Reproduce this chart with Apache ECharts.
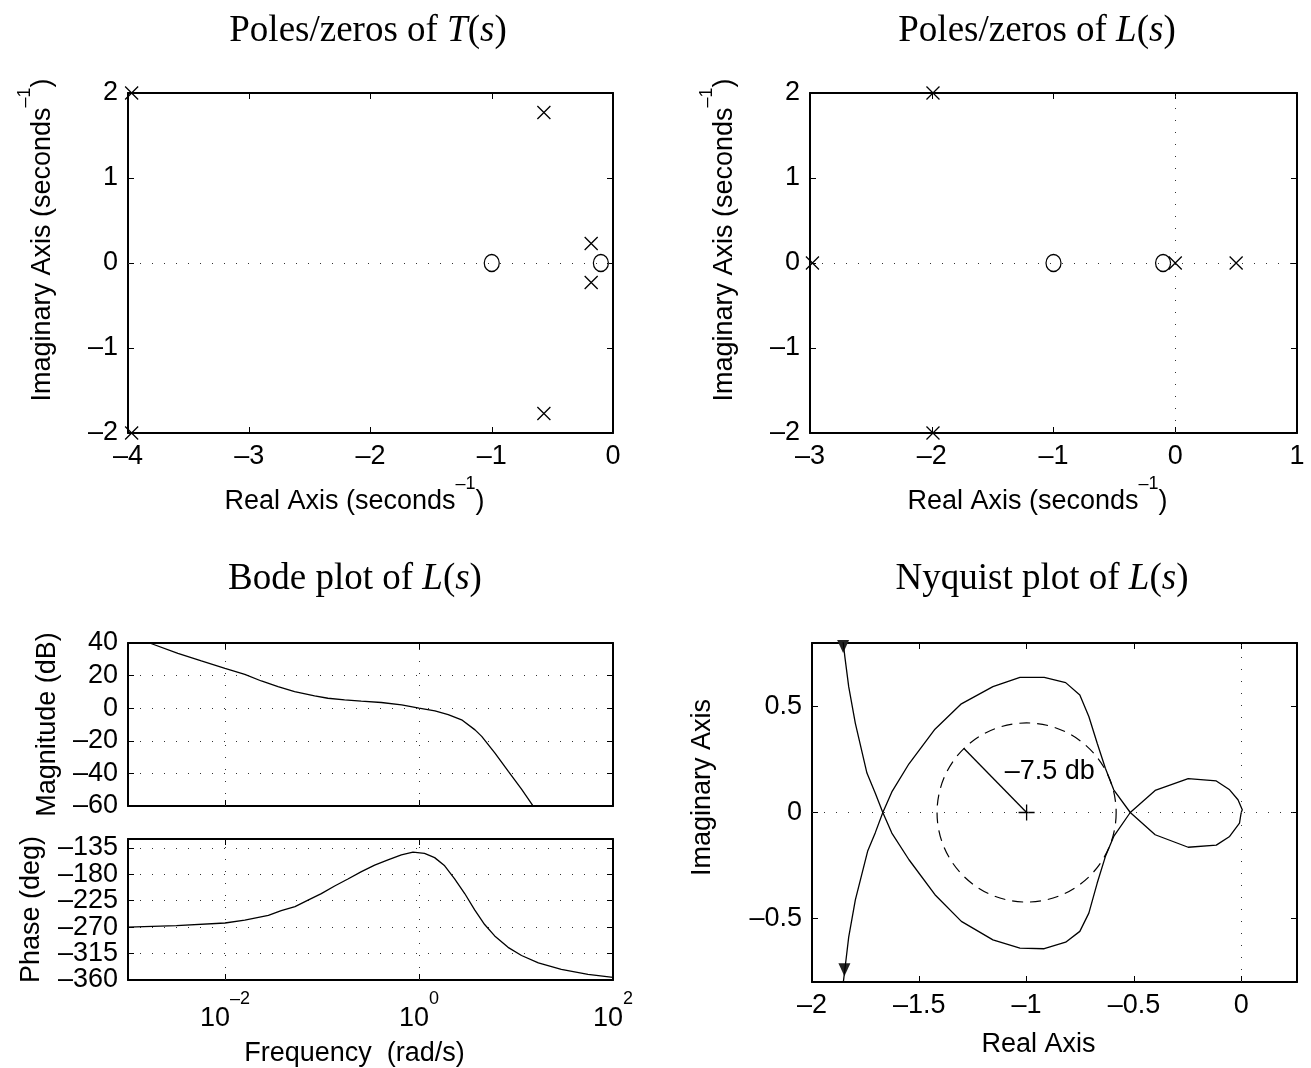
<!DOCTYPE html>
<html>
<head>
<meta charset="utf-8">
<script src="https://cdn.jsdelivr.net/npm/echarts@6/dist/echarts.min.js"></script>
<style>
html, body { margin: 0; padding: 0; background: #fff; }
#main { width: 1311px; height: 1068px; }
</style>
</head>
<body>
<div id="main"></div>
<script>
// poles / zeros of T(s)
var tPoles = [[-3.97, 2.0], [-3.97, -2.0], [-0.57, 1.77], [-0.57, -1.77], [-0.18, 0.23], [-0.18, -0.23]];
var tZeros = [[-1.0, 0], [-0.1, 0]];

// poles / zeros of L(s)
var lPoles = [[-1.99, 2.0], [-1.99, -2.0], [-2.98, 0], [0, 0], [0.5, 0]];
var lZeros = [[-1.0, 0], [-0.1, 0]];

// bode of L(s)
var magFreq = [0.001, 0.00167, 0.00327, 0.0057, 0.01, 0.016, 0.0237, 0.0352, 0.0522, 0.0839, 0.115, 0.171, 0.254,
  0.409, 0.662, 1, 1.46, 2.0, 2.75, 3.78, 4.43, 6.07, 8.34, 11.4, 15.1];
var magDb = [44.8, 40, 33.7, 29, 24.5, 20.8, 16.7, 13.3, 10.2, 7.6, 6.1, 5.1, 4.3,
  3.5, 2.0, 0, -1.6, -3.9, -7.1, -13.3, -17.3, -27.6, -38.8, -49.6, -60.2];
var phaseFreq = [0.001, 0.00316, 0.01, 0.016, 0.028, 0.038, 0.0527, 0.0718, 0.0984, 0.135, 0.185, 0.255, 0.349,
  0.479, 0.658, 0.867, 1.14, 1.45, 1.84, 2.33, 2.96, 3.75, 4.75, 6.03, 8.28, 11.4, 17, 29.3, 55.2, 100];
var phaseDeg = [-270, -267.5, -263, -258, -250, -242, -235, -224, -213, -200, -188, -175.6, -164.4,
  -155.6, -147.2, -142.2, -144.4, -151.7, -165.6, -187.8, -212.8, -240.6, -265.6, -285, -304.4, -318.3, -331, -342, -350.6, -355.6];
var bodeTicks = [0.01, 1, 100];
var phaseTicks = [-360, -315, -270, -225, -180, -135];
var phaseLabelsA = [-360, -270, -180];
var phaseLabelsB = [-315, -225, -135];

// nyquist of L(s): w > 0 branch and w < 0 branch
var nyqPos = [[-1.86, 0.85], [-1.847, 0.736], [-1.829, 0.594], [-1.798, 0.421], [-1.744, 0.186], [-1.705, 0.091],
  [-1.670, 0], [-1.628, -0.097], [-1.548, -0.223], [-1.427, -0.388], [-1.304, -0.514], [-1.157, -0.601],
  [-1.031, -0.640], [-0.918, -0.643], [-0.818, -0.612], [-0.752, -0.561], [-0.710, -0.475], [-0.671, -0.333],
  [-0.633, -0.208], [-0.594, -0.113], [-0.517, 0], [-0.401, 0.104], [-0.247, 0.160], [-0.116, 0.149],
  [-0.054, 0.107], [-0.015, 0.060], [0.005, 0.013], [0, 0]];
var nyqNeg = [[-1.86, -0.85], [-1.847, -0.742], [-1.829, -0.588], [-1.798, -0.412], [-1.740, -0.180], [-1.705, -0.095],
  [-1.670, 0], [-1.628, 0.097], [-1.548, 0.230], [-1.427, 0.393], [-1.304, 0.513], [-1.157, 0.594],
  [-1.031, 0.638], [-0.918, 0.638], [-0.818, 0.613], [-0.752, 0.555], [-0.710, 0.453], [-0.671, 0.327],
  [-0.633, 0.209], [-0.594, 0.107], [-0.517, 0], [-0.401, -0.105], [-0.247, -0.164], [-0.116, -0.154],
  [-0.054, -0.113], [-0.008, -0.050], [0, 0]];
var nyqArrows = [[-1.855, 0.783], [-1.849, -0.742]];
var critPoint = [-1, 0];
var circleRadius = 0.42;
var radiusEnd = [-1.293, 0.303];
var circleLabel = '\u20137.5 db';
var circleLabelPos = [-1.10, 0.193];
var nyqXTicks = [-2, -1.5, -1, -0.5, 0];
var nyqYTicks = [-0.5, 0, 0.5];

var SANS = 'Liberation Sans, Arial, Helvetica, sans-serif';
var SERIF = 'Liberation Serif, Times New Roman, serif';
var FS = 27;
var DOT = { color: '#333', width: 1, type: [1, 11] };
var CROSS = 'path://M0,0L10,10M10,0L0,10';
var PLUS = 'path://M5,0L5,10M0,5L10,5';

function fmtNum(v) { return String(v).replace('-', '\u2013'); }
function fmtPow(v) { return '{b|10}{e|' + fmtNum(Math.round(Math.log(v) / Math.LN10)) + '}'; }

var SUP_RICH = {
  n: { fontSize: FS, fontFamily: SANS, color: '#000', lineHeight: 40, verticalAlign: 'bottom' },
  s: { fontSize: 18, fontFamily: SANS, color: '#000', verticalAlign: 'top' }
};
var POW_RICH = {
  b: { fontSize: FS, fontFamily: SANS, color: '#000', lineHeight: 42, verticalAlign: 'bottom' },
  e: { fontSize: 18, fontFamily: SANS, color: '#000', verticalAlign: 'top' }
};
function nameStyle(pad) {
  return { fontSize: FS, fontFamily: SANS, color: '#000', rich: SUP_RICH, padding: pad || 0 };
}
function labelStyle(o) {
  return {
    show: o.labels !== false, margin: 10, fontSize: FS, fontFamily: SANS, color: '#000',
    showMinLabel: true, showMaxLabel: true, hideOverlap: false,
    customValues: o.labelVals || o.ticks, formatter: o.fmt || fmtNum, rich: o.rich
  };
}

var xAxes = [], yAxes = [];

// one pair of axes per side, box drawn by the axis lines
function addAxis(list, dir, g, o) {
  var pos = dir == 'x' ? ['bottom', 'top'] : ['left', 'right'];
  var line = { show: true, onZero: false, lineStyle: { color: '#000', width: 2 } };
  var tick = { show: true, inside: true, length: 6, lineStyle: { color: '#000', width: 1 }, customValues: o.ticks };
  var base = {
    type: o.type || 'value', gridIndex: g, min: o.min, max: o.max, interval: o.interval,
    axisLine: line, axisTick: tick
  };
  list.push(Object.assign({}, base, {
    position: pos[0],
    axisLabel: labelStyle(o),
    splitLine: { show: !!o.grid, lineStyle: DOT },
    name: o.name, nameLocation: 'middle', nameGap: o.gap, nameTextStyle: nameStyle(o.pad)
  }));
  list.push(Object.assign({}, base, {
    position: pos[1], axisLabel: { show: false }, splitLine: { show: false }
  }));
}

var realName = '{n|Real Axis (seconds}{s|\u20131}{n|)}';
var imagName = '{n|Imaginary Axis (seconds}{s|\u20131}{n|)}';
var X_PAD = [0, 32, 0, 0];

// 0: T(s) pz map
addAxis(xAxes, 'x', 0, { min: -4, max: 0, interval: 1, name: realName, gap: 42, pad: X_PAD });
addAxis(yAxes, 'y', 0, { min: -2, max: 2, interval: 1, name: imagName, gap: 72, pad: [0, 0, 0, 46] });
// 1: L(s) pz map
addAxis(xAxes, 'x', 1, { min: -3, max: 1, interval: 1, name: realName, gap: 42, pad: X_PAD });
addAxis(yAxes, 'y', 1, { min: -2, max: 2, interval: 1, name: imagName, gap: 72, pad: [0, 0, 0, 46] });
// 2: magnitude
addAxis(xAxes, 'x', 2, { type: 'log', min: 0.001, max: 100, ticks: bodeTicks, labels: false });
addAxis(yAxes, 'y', 2, { min: -60, max: 40, interval: 20, grid: true, name: '{n|Magnitude (dB)}', gap: 67 });
// 3: phase
addAxis(xAxes, 'x', 3, { type: 'log', min: 0.001, max: 100, ticks: bodeTicks, fmt: fmtPow, rich: POW_RICH,
  name: '{n|Frequency  (rad/s)}', gap: 47, pad: X_PAD });
addAxis(yAxes, 'y', 3, { min: -360, max: -120, interval: 45, ticks: phaseTicks, labelVals: phaseLabelsA, grid: true,
  name: '{n|Phase (deg)}', gap: 83 });
// 4: nyquist
addAxis(xAxes, 'x', 4, { min: -2, max: 0.26, ticks: nyqXTicks, name: '{n|Real Axis}', gap: 36, pad: X_PAD });
addAxis(yAxes, 'y', 4, { min: -0.8, max: 0.8, ticks: nyqYTicks, name: '{n|Imaginary Axis}', gap: 96, pad: [0, 0, 0, 50] });

// second set of phase labels (labels sit too close together for one axis)
yAxes.push({
  type: 'value', gridIndex: 3, position: 'left', min: -360, max: -120,
  axisLine: { show: false }, axisTick: { show: false }, splitLine: { show: false },
  axisLabel: labelStyle({ labelVals: phaseLabelsB })
});

function pair(a, b) {
  var out = [];
  for (var i = 0; i < a.length; i++) out.push([a[i], b[i]]);
  return out;
}

function dotLines(data) {
  return { silent: true, symbol: ['none', 'none'], label: { show: false }, lineStyle: DOT, animation: false, data: data };
}

var crossStyle = { color: 'none', borderColor: '#000', borderWidth: 1.3, opacity: 1 };
var ringStyle = { color: 'none', borderColor: '#000', borderWidth: 1.3, opacity: 1 };
var curve = { color: '#000', width: 1.3 };

var series = [
  // T(s)
  { type: 'scatter', xAxisIndex: 0, yAxisIndex: 0, data: tPoles, symbol: CROSS, symbolSize: 13, itemStyle: crossStyle,
    markLine: dotLines([{ yAxis: 0 }]) },
  { type: 'scatter', xAxisIndex: 0, yAxisIndex: 0, data: tZeros, symbol: 'circle', symbolSize: [15, 17], itemStyle: ringStyle },
  // L(s)
  { type: 'scatter', xAxisIndex: 2, yAxisIndex: 2, data: lPoles, symbol: CROSS, symbolSize: 13, itemStyle: crossStyle,
    markLine: dotLines([{ yAxis: 0 }, { xAxis: 0 }]) },
  { type: 'scatter', xAxisIndex: 2, yAxisIndex: 2, data: lZeros, symbol: 'circle', symbolSize: [15, 17], itemStyle: ringStyle },
  // bode
  { type: 'line', xAxisIndex: 4, yAxisIndex: 4, data: pair(magFreq, magDb), symbol: 'none',
    lineStyle: curve, markLine: dotLines([{ xAxis: 0.01 }, { xAxis: 1 }]) },
  { type: 'line', xAxisIndex: 6, yAxisIndex: 6, data: pair(phaseFreq, phaseDeg), symbol: 'none',
    lineStyle: curve, markLine: dotLines([{ xAxis: 0.01 }, { xAxis: 1 }]) },
  // nyquist
  { type: 'line', xAxisIndex: 8, yAxisIndex: 8, data: nyqPos, symbol: 'none', lineStyle: curve,
    markLine: dotLines([{ yAxis: 0 }, { xAxis: 0 }]) },
  { type: 'line', xAxisIndex: 8, yAxisIndex: 8, data: nyqNeg, symbol: 'none', lineStyle: curve },
  { type: 'scatter', xAxisIndex: 8, yAxisIndex: 8, data: nyqArrows, symbol: 'triangle', symbolRotate: 180,
    symbolSize: [12, 13], itemStyle: { color: '#222', opacity: 1 } },
  { type: 'custom', xAxisIndex: 8, yAxisIndex: 8, data: [[critPoint[0], critPoint[1], circleRadius]],
    renderItem: function (params, api) {
      var c = api.coord([api.value(0), api.value(1)]);
      var s = api.size([api.value(2), api.value(2)]);
      return {
        type: 'circle',
        shape: { cx: c[0], cy: c[1], r: (s[0] + s[1]) / 2 },
        style: { fill: 'none', stroke: '#000', lineWidth: 1.2, lineDash: [11, 7] }
      };
    } },
  { type: 'line', xAxisIndex: 8, yAxisIndex: 8, data: [critPoint, radiusEnd], symbol: 'none', lineStyle: curve },
  { type: 'scatter', xAxisIndex: 8, yAxisIndex: 8, data: [critPoint], symbol: PLUS, symbolSize: 16, itemStyle: crossStyle },
  { type: 'scatter', xAxisIndex: 8, yAxisIndex: 8, data: [circleLabelPos], symbolSize: 1,
    itemStyle: { color: 'transparent', opacity: 1 },
    label: { show: true, position: [0, 0], align: 'left', verticalAlign: 'middle', formatter: circleLabel,
      fontSize: FS, fontFamily: SANS, color: '#000' } }
];

var TITLE_RICH = {
  r: { fontSize: 37, fontFamily: SERIF, color: '#000' },
  i: { fontSize: 37, fontFamily: SERIF, fontStyle: 'italic', color: '#000' }
};
function title(txt, x, y) {
  return { type: 'text', x: x, y: y, style: { text: txt, rich: TITLE_RICH, align: 'center', verticalAlign: 'middle' } };
}

var myChart = echarts.init(document.getElementById('main'), null, { renderer: 'canvas' });
myChart.setOption({
  animation: false,
  backgroundColor: '#fff',
  grid: [
    { left: 128, top: 93, width: 485, height: 340 },
    { left: 810, top: 93, width: 487, height: 340 },
    { left: 128, top: 643, width: 485, height: 163 },
    { left: 128, top: 839, width: 485, height: 144 },
    { left: 812, top: 643, width: 485, height: 339 }
  ],
  xAxis: xAxes,
  yAxis: yAxes,
  graphic: [
    title('{r|Poles/zeros of }{i|T}{r|(}{i|s}{r|)}', 368, 31),
    title('{r|Poles/zeros of }{i|L}{r|(}{i|s}{r|)}', 1037, 31),
    title('{r|Bode plot of }{i|L}{r|(}{i|s}{r|)}', 355, 579),
    title('{r|Nyquist plot of }{i|L}{r|(}{i|s}{r|)}', 1042, 579)
  ],
  series: series
});
</script>
</body>
</html>
